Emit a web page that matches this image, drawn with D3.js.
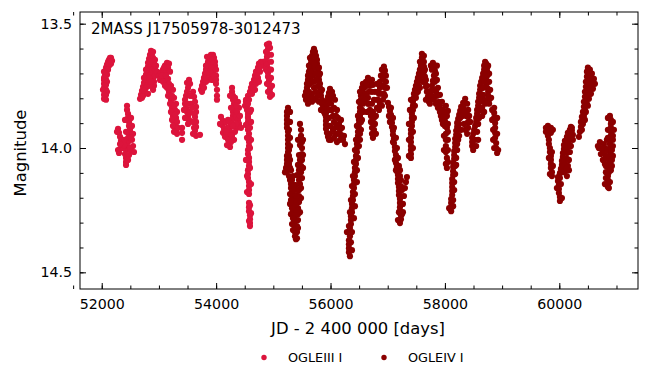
<!DOCTYPE html>
<html>
<head>
<meta charset="utf-8">
<script src="https://cdn.jsdelivr.net/npm/d3@7"></script>
<style>
  body { margin: 0; background: #fff; }
  svg { display: block; font-family: "DejaVu Sans", sans-serif; }
  .tick text { fill: #000; }
</style>
</head>
<body>
<div id="chart"></div>
<script>
`use strict`;

// light curve, [JD - 2400000, I mag]
const ogle3 = [
    // 2001
    [52075,13.806],[52057,13.790],[52057,13.774],[52040,13.758],[52040,13.742],[52040,13.726],[52057,13.709],[52057,13.693],
    [52075,13.677],[52092,13.665],[52110,13.653],[52127,13.645],[52145,13.637],[52162,13.637],[52180,13.649],[52162,13.661],
    [52127,13.669],[52092,13.685],[52092,13.705],[52075,13.726],[52075,13.746],[52075,13.766],[52075,13.786],[52057,13.802],
    [52127,13.661],[52162,13.653],[52110,13.685],[52040,13.693],[52075,13.701],[52040,13.718],[52092,13.734],[52057,13.750],
    [52022,13.766],[52092,13.774],[52040,13.786],[52040,13.802],
    // 2002
    [52442,13.830],[52442,13.847],[52460,13.863],[52460,13.879],[52477,13.895],[52477,13.911],[52494,13.927],[52477,13.943],
    [52460,13.959],[52460,13.976],[52442,13.992],[52425,14.008],[52407,14.024],[52425,14.040],[52425,14.056],[52425,14.068],
    [52285,13.923],[52302,13.939],[52320,13.955],[52337,13.971],[52355,13.988],[52320,14.004],[52302,14.020],[52285,14.008],
    [52529,13.911],[52547,13.943],[52529,13.967],[52547,13.992],[52512,14.012],[52564,14.016],
    [52390,13.967],[52372,14.000],[52494,14.000],
    [52407,13.887],[52512,13.879],[52425,13.935],[52512,13.959],[52390,13.988],[52477,14.028],[52460,14.048],[52320,13.984],
    [52267,13.935],
    // 2003
    [52670,13.802],[52687,13.786],[52704,13.770],[52722,13.754],[52739,13.738],[52757,13.722],[52774,13.705],[52792,13.689],
    [52809,13.673],[52809,13.657],[52827,13.641],[52844,13.625],[52862,13.609],[52879,13.621],[52897,13.637],[52879,13.653],
    [52862,13.669],[52844,13.685],[52862,13.701],[52897,13.718],[52914,13.734],[52931,13.709],[52914,13.750],[52897,13.766],
    [52809,13.726],[52792,13.750],[52757,13.774],[52704,13.798],
    [52722,13.790],[52774,13.758],[52844,13.750],[52827,13.718],[52879,13.685],[52931,13.685],[52949,13.669],[52914,13.661],
    [52931,13.645],[52844,13.653],[52774,13.685],[52739,13.718],[52862,13.734],[52966,13.693],[52897,13.613],[52739,13.770],
    [52809,13.782],
    // 2004
    [53001,13.709],[53019,13.726],[53036,13.697],[53071,13.685],[53106,13.669],[53141,13.657],[53176,13.661],[53159,13.677],
    [53124,13.693],[53089,13.713],[53124,13.734],[53159,13.722],[53194,13.693],[53141,13.758],[53176,13.774],[53194,13.790],
    [53211,13.806],[53229,13.822],[53229,13.838],[53246,13.855],[53246,13.871],[53264,13.887],[53281,13.903],[53281,13.919],
    [53299,13.931],[53211,13.750],[53246,13.766],[53264,13.798],[53299,13.822],[53316,13.855],[53299,13.879],[53281,13.847],
    [53054,13.709],[53089,13.677],[53124,13.709],[53176,13.742],[53159,13.790],[53194,13.822],[53176,13.758],[53229,13.790],
    [53264,13.830],[53211,13.855],[53281,13.867],[53229,13.887],[53316,13.895],[53246,13.911],[53334,13.919],[53316,13.943],
    [53264,13.935],[53071,13.734],[53106,13.750],
    // 2005
    [53404,13.919],[53404,13.939],[53404,13.967],[53491,13.738],[53526,13.726],[53544,13.742],[53509,13.758],[53491,13.774],
    [53474,13.790],[53456,13.806],[53456,13.822],[53474,13.838],[53491,13.855],[53509,13.871],[53526,13.887],[53544,13.855],
    [53561,13.822],[53579,13.790],[53596,13.774],[53614,13.794],[53631,13.814],[53649,13.834],[53649,13.855],[53631,13.875],
    [53649,13.895],[53649,13.915],[53631,13.931],[53649,13.951],[53596,13.943],[53718,13.947],
    [53438,13.847],[53509,13.822],[53544,13.790],[53579,13.838],[53614,13.863],[53596,13.895],[53614,13.919],[53509,13.903],
    [53456,13.879],
    // 2006
    [53736,13.766],[53753,13.750],[53771,13.734],[53788,13.718],[53806,13.701],[53823,13.685],[53841,13.669],[53858,13.653],
    [53876,13.637],[53910,13.625],[53945,13.625],[53963,13.637],[53980,13.653],[53980,13.669],[53963,13.685],[53945,13.701],
    [53910,13.718],[53876,13.701],[53893,13.677],[53910,13.653],[53858,13.726],[53998,13.709],[53998,13.742],[54015,13.766],
    [54015,13.790],[54015,13.806],[53823,13.734],
    [53841,13.633],[53893,13.637],[53928,13.645],[53858,13.661],[53945,13.661],[53823,13.669],[53893,13.693],[53928,13.677],
    [53841,13.701],[53806,13.718],[53771,13.750],[53753,13.774],[53788,13.758],[53928,13.726],[53963,13.709],[53998,13.685],
    [53998,13.726],
    // 2007
    [54278,13.758],[54278,13.774],[54295,13.790],[54295,13.806],[54313,13.822],[54313,13.838],[54295,13.855],[54295,13.871],
    [54278,13.887],[54260,13.903],[54243,13.919],[54243,13.935],[54225,13.951],[54225,13.967],[54225,13.984],[54243,13.996],
    [54085,13.875],[54120,13.891],[54103,13.907],[54138,13.923],[54120,13.939],[54155,13.955],[54173,13.895],[54190,13.919],
    [54348,13.871],[54382,13.887],[54400,13.903],[54365,13.919],[54330,13.935],[54400,13.838],[54382,13.814],[54365,13.855],
    [54243,13.790],[54330,13.798],[54348,13.830],[54260,13.838],[54348,13.903],[54295,13.911],[54208,13.887],[54173,13.935],
    [54208,13.967],[54278,13.951],[54313,13.967],[54260,13.976],[54068,13.903],[54190,13.988],[54417,13.871],[54435,13.919],
    // 2008
    [54522,13.814],[54540,13.830],[54540,13.847],[54557,13.863],[54557,13.879],[54557,13.895],[54557,13.911],[54557,13.927],
    [54575,13.943],[54575,13.959],[54575,13.976],[54575,13.992],[54557,14.008],[54557,14.024],[54575,14.040],[54575,14.056],
    [54575,14.072],[54557,14.089],[54557,14.105],[54557,14.121],[54575,14.137],[54575,14.153],[54575,14.169],[54575,14.185],
    [54575,14.221],[54575,14.238],[54575,14.254],[54592,14.270],[54592,14.286],[54592,14.302],[54592,14.314],
    [54610,13.847],[54610,13.895],[54610,13.967],[54522,13.907],[54522,14.048],
    [54592,13.855],[54592,13.919],[54592,14.000],[54592,14.080],[54610,14.145],[54540,14.177],[54592,14.230],[54610,14.262],
    [54575,14.294],[54557,13.875],[54540,13.959],[54540,14.113],
    [54505,13.830],[54522,13.806],[54557,13.790],[54592,13.774],[54610,13.758],[54627,13.742],[54662,13.726],[54680,13.709],
    [54697,13.693],[54732,13.677],[54749,13.661],[54784,13.653],[54802,13.669],[54767,13.693],[54732,13.718],[54697,13.742],
    [54662,13.766],
    [54575,13.806],[54627,13.782],[54644,13.758],[54697,13.726],[54715,13.709],[54749,13.685],[54784,13.669],[54819,13.653],
    [54557,13.822],[54680,13.766],[54749,13.734],
    // 2009
    [54889,13.584],[54907,13.601],[54889,13.617],[54889,13.633],[54872,13.649],[54889,13.665],[54907,13.681],[54907,13.697],
    [54907,13.713],[54924,13.730],[54924,13.746],[54942,13.762],[54942,13.778],[54942,13.794],[54924,13.580],
    [54942,13.597],[54959,13.625],[54959,13.653],[54872,13.685],[54959,13.685],[54959,13.718],[54889,13.742],[54977,13.750],
    [54907,13.774],[54977,13.786],[54872,13.613]
];

const ogle4 = [
    // 2010
    [55257,13.838],[55239,13.855],[55239,13.871],[55239,13.887],[55239,13.903],[55239,13.919],[55257,13.935],[55257,13.951],
    [55257,13.967],[55257,13.984],[55257,14.000],[55257,14.016],[55239,14.032],[55239,14.048],[55239,14.064],[55222,14.080],
    [55222,14.097],[55274,14.113],[55292,14.129],[55309,14.145],[55309,14.161],[55327,14.177],[55327,14.193],[55327,14.209],
    [55344,14.225],[55344,14.242],[55344,14.258],[55361,14.274],[55361,14.290],[55361,14.306],[55379,14.322],[55379,14.338],
    [55379,14.355],[55396,14.367],
    [55414,14.338],[55414,14.314],[55431,14.290],[55431,14.266],[55431,14.242],[55449,14.217],[55449,14.193],[55449,14.169],
    [55466,14.145],[55466,14.121],[55484,14.097],[55484,14.072],[55501,14.048],[55501,14.024],[55501,14.000],[55501,13.976],
    [55484,13.951],[55484,13.927],[55466,13.903],
    [55292,14.185],[55292,14.225],[55309,14.266],[55327,14.306],[55396,14.230],[55396,14.189],[55396,14.149],[55414,14.109],
    [55431,14.068],[55449,14.028],[55379,14.270],[55361,14.149],[55344,14.113],[55292,14.080],[55292,14.048],[55274,14.008],
    [55274,13.927],[55309,14.089],
    [55292,13.855],[55292,13.895],[55292,13.959],[55292,13.992],[55274,14.032],[55274,14.064],[55204,14.097],[55361,14.169],
    [55379,14.209],[55414,14.250],[55396,14.290],[55414,14.363],[55344,14.330],[55431,14.322],[55466,14.258],[55484,14.201],
    [55484,14.161],[55501,14.121],[55519,14.080],[55519,14.028],[55519,13.967],[55449,14.089],[55449,14.129],[55431,14.169],
    [55414,14.193],[55466,14.048],[55466,13.988],[55431,13.967],[55327,14.129],[55309,14.209],[55327,14.242],[55344,14.282],
    // 2011
    [55571,13.806],[55571,13.790],[55571,13.774],[55588,13.758],[55588,13.742],[55606,13.726],[55606,13.709],[55623,13.693],
    [55641,13.677],[55658,13.661],[55658,13.645],[55676,13.629],[55693,13.613],[55711,13.601],[55728,13.613],[55746,13.629],
    [55763,13.645],[55763,13.661],[55781,13.677],[55781,13.693],[55798,13.709],[55798,13.726],[55816,13.742],[55816,13.758],
    [55833,13.774],[55833,13.790],[55851,13.806],[55851,13.822],[55868,13.838],[55886,13.855],[55676,13.685],[55693,13.709],
    [55711,13.734],[55711,13.758],[55676,13.782],[55641,13.798],[55746,13.774],[55746,13.806],[55641,13.742],[55728,13.677],
    [55641,13.637],[55711,13.625],[55746,13.645],[55623,13.669],[55693,13.653],[55728,13.661],[55798,13.677],[55658,13.693],
    [55746,13.701],[55816,13.701],[55606,13.750],[55641,13.718],[55676,13.734],[55746,13.726],[55781,13.750],[55851,13.766],
    [55623,13.774],[55553,13.790],[55606,13.798],[55693,13.798],[55781,13.790],[55798,13.814],[55886,13.822],[55606,13.822],
    [55676,13.814],[55833,13.847],[55903,13.863],
    // 2012
    [55991,13.762],[55973,13.778],[55956,13.794],[55938,13.810],[55938,13.826],[55921,13.842],[55921,13.859],[55921,13.875],
    [55921,13.891],[55921,13.907],[55921,13.923],[55938,13.939],[55956,13.955],[56008,13.967],[56061,13.959],[56095,13.943],
    [56078,13.919],[56061,13.895],[56043,13.871],[56026,13.847],[56008,13.822],[56008,13.798],[56026,13.774],[56078,13.806],
    [56113,13.847],[56130,13.879],[56148,13.903],[56165,13.927],[56183,13.947],[56218,13.967],[56253,13.984],[56113,13.976],
    [56043,13.927],[56183,13.887],
    [55973,13.806],[55991,13.847],[55973,13.879],[55991,13.911],[55991,13.943],[56061,13.838],[56095,13.871],[56113,13.911],
    [56130,13.943],[56165,13.967],[56235,13.951],[56200,13.919],[55973,13.967],[56043,13.790],
    // 2013
    [56340,14.435],[56322,14.419],[56322,14.403],[56322,14.387],[56322,14.371],[56287,14.338],[56340,14.355],[56340,14.322],
    [56357,14.306],[56357,14.290],[56357,14.274],[56375,14.258],[56375,14.242],[56375,14.225],[56392,14.209],[56392,14.193],
    [56392,14.177],[56410,14.161],[56410,14.145],[56410,14.129],[56427,14.113],[56427,14.097],[56427,14.080],[56445,14.064],
    [56445,14.048],[56445,14.032],[56462,14.016],[56462,14.000],[56462,13.984],[56480,13.967],[56480,13.951],[56480,13.935],
    [56497,13.919],[56497,13.903],[56497,13.887],[56515,13.871],[56515,13.855],[56515,13.838],[56532,13.822],[56532,13.806],
    [56532,13.790],[56550,13.774],[56550,13.758],[56567,13.742],[56585,13.790],[56567,13.822],[56567,13.855],[56550,13.887],
    [56532,13.927],[56515,13.967],
    [56375,14.411],[56357,14.379],[56375,14.338],[56322,14.314],[56410,14.282],[56340,14.258],[56427,14.234],[56357,14.209],
    [56427,14.185],[56375,14.153],[56462,14.137],[56392,14.113],[56462,14.089],[56410,14.056],[56480,14.040],[56427,14.008],
    [56497,13.992],[56445,13.967],[56515,13.943],[56462,13.911],[56532,13.895],[56480,13.871],[56550,13.847],[56497,13.814],
    [56567,13.798],[56515,13.774],[56585,13.758],
    [56585,13.758],[56620,13.734],[56655,13.718],[56690,13.726],[56690,13.750],[56672,13.774],[56655,13.798],[56672,13.822],
    [56690,13.847],[56707,13.871],[56707,13.895],[56725,13.919],[56725,13.943],[56742,13.959],[56777,13.903],[56794,13.871],
    [56812,13.838],[56829,13.806],[56847,13.782],[56864,13.758],[56864,13.734],[56882,13.709],[56899,13.685],[56934,13.673],
    [56952,13.689],[56969,13.709],[56969,13.734],[56952,13.758],[56934,13.782],[56917,13.806],[56899,13.830],[56760,13.806],
    [56777,13.774],[56620,13.782],[56602,13.806],[56742,13.746],
    [56637,13.750],[56725,13.726],[56725,13.774],[56725,13.822],[56742,13.855],[56760,13.879],[56760,13.927],[56794,13.943],
    [56812,13.806],[56829,13.774],[56812,13.742],[56917,13.718],[56917,13.750],[56899,13.782],[56864,13.822],[56847,13.847],
    [56934,13.701],[56987,13.758],[56952,13.790],[56655,13.822],[56637,13.855],
    // 2015
    [57004,13.818],[57022,13.834],[57039,13.851],[57057,13.867],[57057,13.883],[57074,13.899],[57074,13.915],[57092,13.931],
    [57092,13.947],[57109,13.963],[57109,13.980],[57126,13.996],[57126,14.012],[57144,14.028],[57144,14.044],[57144,14.060],
    [57161,14.076],[57161,14.093],[57179,14.109],[57179,14.125],[57179,14.141],[57196,14.157],[57196,14.173],[57196,14.189],
    [57214,14.205],[57214,14.221],[57214,14.238],[57214,14.254],[57231,14.270],[57231,14.286],[57214,14.302],[57266,14.258],
    [57266,14.225],[57284,14.193],[57301,14.161],[57319,14.137],[57336,14.117],[57249,14.169],[57231,14.129],[57214,14.089],
    [57039,13.895],[57022,13.871],
    [57057,13.838],[57092,13.879],[57109,13.919],[57144,13.959],[57161,14.000],[57179,14.040],[57196,14.072],[57214,14.113],
    [57231,14.153],[57231,14.193],[57249,14.225],[57249,14.266],[57179,14.290],[57196,14.258],[57144,14.089],[57126,14.048],
    [57092,13.976],
    // 2016
    [57406,14.040],[57406,14.024],[57406,14.008],[57406,13.992],[57406,13.976],[57406,13.959],[57406,13.943],[57406,13.927],
    [57423,13.911],[57423,13.895],[57423,13.879],[57423,13.863],[57441,13.847],[57441,13.830],[57441,13.814],[57458,13.798],
    [57458,13.782],[57476,13.766],[57493,13.750],[57511,13.734],[57528,13.718],[57546,13.701],[57563,13.685],[57581,13.669],
    [57581,13.653],[57598,13.637],[57598,13.621],[57616,13.633],[57633,13.653],[57633,13.673],[57633,13.693],[57651,13.713],
    [57651,13.734],[57668,13.754],[57685,13.774],[57703,13.794],[57720,13.814],[57546,13.750],[57528,13.774],[57493,13.798],
    [57563,13.726],[57598,13.709],
    [57371,14.032],[57441,14.000],[57371,13.967],[57441,13.935],[57371,13.903],[57458,13.879],[57388,13.847],[57476,13.830],
    [57406,13.806],[57493,13.782],[57511,13.758],[57563,13.758],[57546,13.718],[57616,13.734],[57581,13.701],[57651,13.685],
    [57598,13.669],[57633,13.629],[57563,13.653],[57668,13.726],[57685,13.750],[57703,13.774],[57720,13.798],[57668,13.806],
    [57738,13.822],
    // 2017
    [57755,13.669],[57790,13.657],[57825,13.669],[57825,13.689],[57808,13.709],[57790,13.730],[57773,13.750],[57755,13.770],
    [57773,13.790],[57808,13.806],[57843,13.822],[57878,13.838],[57913,13.855],[57930,13.871],[57948,13.887],[57965,13.903],
    [58000,13.891],[58035,13.871],[58052,13.851],[58017,13.830],[58035,13.919],[58017,13.943],[58017,13.967],[58017,13.992],
    [58017,14.016],[58035,14.040],[58017,14.064],[58035,14.080],[57860,13.726],[57878,13.758],[57913,13.786],[57948,13.814],
    [57843,13.774],
    [57773,13.685],[57843,13.701],[57825,13.734],[57808,13.766],[57860,13.790],[57895,13.814],[57913,13.830],[57965,13.847],
    [57983,13.871],[58017,13.855],[58000,13.911],[58052,13.903],[58052,13.935],[58052,13.967],[57983,13.951],[58052,14.008],
    [57983,14.008],[58052,14.056],[57860,13.669],
    // 2018
    [58354,13.802],[58319,13.818],[58284,13.834],[58267,13.851],[58249,13.867],[58232,13.883],[58214,13.899],[58214,13.915],
    [58197,13.931],[58197,13.947],[58179,13.963],[58179,13.980],[58179,13.996],[58162,14.012],[58162,14.028],[58162,14.044],
    [58144,14.060],[58144,14.076],[58144,14.093],[58144,14.109],[58127,14.125],[58127,14.141],[58127,14.157],[58127,14.173],
    [58127,14.189],[58109,14.205],[58109,14.221],[58109,14.238],[58109,14.254],[58389,13.822],[58406,13.847],[58424,13.871],
    [58406,13.895],[58406,13.919],[58389,13.943],[58337,13.903],[58302,13.871],[58249,13.927],[58232,13.967],[58214,14.008],
    [58197,14.068],
    [58319,13.838],[58267,13.879],[58249,13.903],[58249,13.951],[58232,13.919],[58214,13.984],[58197,14.008],[58197,14.040],
    [58179,14.072],[58179,14.105],[58162,14.137],[58162,14.169],[58144,14.209],[58144,14.234],[58074,14.242],[58372,13.871],
    [58441,13.895],[58354,13.927],[58284,13.927],[58337,13.855],
    // 2019
    [58494,14.008],[58476,13.992],[58476,13.976],[58476,13.959],[58494,13.943],[58511,13.927],[58528,13.911],[58546,13.895],
    [58546,13.879],[58563,13.863],[58563,13.847],[58581,13.830],[58581,13.814],[58598,13.798],[58598,13.782],[58616,13.766],
    [58616,13.750],[58633,13.734],[58651,13.718],[58668,13.701],[58686,13.685],[58686,13.669],[58703,13.653],[58721,13.661],
    [58738,13.677],[58738,13.693],[58738,13.709],[58721,13.726],[58721,13.742],[58738,13.758],[58756,13.774],[58756,13.790],
    [58773,13.806],[58773,13.822],[58651,13.838],[58651,13.871],[58861,13.838],[58861,13.859],[58861,13.879],[58878,13.899],
    [58878,13.919],[58878,13.939],[58878,13.959],[58896,13.980],[58896,14.000],[58913,14.020],[58546,13.992],[58581,13.967],
    [58668,13.786],[58686,13.806],
    [58528,13.967],[58511,13.992],[58563,13.935],[58581,13.903],[58598,13.879],[58616,13.847],[58633,13.814],[58651,13.790],
    [58668,13.758],[58686,13.734],[58703,13.709],[58721,13.685],[58756,13.669],[58773,13.701],[58773,13.734],[58791,13.766],
    [58808,13.798],[58703,13.822],[58686,13.855],[58826,13.847],[58826,13.887],[58843,13.927],[58843,13.967],[58861,14.000],
    [58931,14.008],[58913,13.943],[58913,13.879],
    // 2022
    [59766,13.919],[59801,13.911],[59853,13.919],[59853,13.939],[59801,13.951],[59766,13.935],[59818,13.967],[59836,14.000],
    [59836,14.016],[59853,14.032],[59853,14.048],[59853,14.064],[59853,14.080],[59871,14.097],[59871,14.113],
    [59801,13.927],[59888,13.927],[59818,13.984],[59871,14.016],[59818,14.040],[59888,14.072],[59836,14.105],
    [60011,14.213],[60011,14.197],[59993,14.181],[59993,14.165],[59993,14.149],[59976,14.133],[59976,14.117],[60011,14.101],
    [60028,14.084],[60046,14.068],[60046,14.052],[60063,14.036],[60063,14.020],[60081,14.004],[60081,13.988],[60098,13.971],
    [60133,13.955],[60150,13.939],[60185,13.927],[60203,13.915],[60220,13.931],[60203,13.951],[60168,13.971],[60150,13.996],
    [60133,14.020],[60133,14.044],[60116,14.068],[60098,14.093],[60133,14.113],[60168,14.089],[60185,13.988],[60238,13.947],
    [60046,14.201],[59958,14.161],[60028,14.145],[60011,14.121],[60063,14.097],[60081,14.072],[60098,14.048],[60098,14.016],
    [60116,13.992],[60133,13.976],[60168,13.951],[60220,13.919],[60238,13.967],[60203,13.992],[60185,14.016],[60168,14.048],
    [60150,14.072],[60133,14.080],
    // 2023
    [60343,13.955],[60360,13.935],[60378,13.915],[60378,13.895],[60395,13.875],[60413,13.855],[60430,13.834],[60430,13.814],
    [60448,13.794],[60448,13.774],[60465,13.754],[60465,13.734],[60483,13.713],[60483,13.693],[60500,13.677],[60535,13.685],
    [60570,13.701],[60605,13.722],[60623,13.742],[60588,13.762],[60553,13.782],[60518,13.802],[60483,13.822],[60448,13.847],
    [60413,13.887],[60535,13.726],[60518,13.758],
    [60395,13.927],[60413,13.903],[60430,13.871],[60465,13.855],[60465,13.814],[60483,13.790],[60500,13.766],[60500,13.742],
    [60518,13.718],[60518,13.693],[60553,13.718],[60588,13.742],[60553,13.758],[60500,13.830],[60448,13.887],[60535,13.782],
    // 2024
    [60885,13.871],[60902,13.887],[60902,13.903],[60902,13.919],[60902,13.935],[60902,13.951],[60902,13.967],[60885,13.984],
    [60885,14.000],[60885,14.016],[60885,14.032],[60867,14.048],[60867,14.064],[60867,14.080],[60867,14.097],[60850,14.113],
    [60850,14.129],[60850,14.145],[60850,14.157],[60815,14.097],[60797,14.064],[60815,14.032],[60797,14.000],[60780,13.984],
    [60710,13.976],[60692,14.000],[60727,14.024],[60762,14.048],[60937,13.992],[60937,14.032],[60937,13.951],[60920,14.072],
    [60832,13.967],
    [60850,13.879],[60937,13.895],[60850,13.927],[60955,13.927],[60850,13.959],[60937,13.967],[60832,14.008],[60920,14.008],
    [60832,14.040],[60920,14.048],[60815,14.072],[60902,14.089],[60815,14.121],[60885,14.137],[60797,14.145],[60762,14.016],
    [60745,14.000],[60675,13.992],[60867,14.161]
];

const xTicks = [52000, 54000, 56000, 58000, 60000];
const xMinorTicks = d3.range(51500, 61500, 500);
const yTicks = [13.5, 14.0, 14.5];
const yMinorTicks = d3.range(13.5, 14.55, 0.1);
const title = "2MASS J17505978-3012473";
const seriesNames = ["OGLEIII I", "OGLEIV I"];
const seriesColors = ["#dc143c", "#8b0000"];

let w = 649, h = 381;
let padLeft = 80, padRight = 638, padTop = 12, padBottom = 289;
let r = 3.1;

let svg = d3.select('#chart').append('svg')
    .attr('width', w).attr('height', h);

let x = d3.scaleLinear().domain([51620, 61376]).range([padLeft, padRight]);
let y = d3.scaleLinear().domain([13.453, 14.567]).range([padTop, padBottom]);

svg.append('clipPath').attr('id', 'plot-clip')
    .append('rect').attr('x', padLeft).attr('y', padTop)
    .attr('width', padRight - padLeft).attr('height', padBottom - padTop);

//points
let plot = svg.append('g').attr('clip-path', 'url(#plot-clip)');
[ogle3, ogle4].forEach((data, i) => {
    plot.append('g').selectAll('circle').data(data).join('circle')
        .attr('cx', (d) => x(d[0])).attr('cy', (d) => y(d[1]))
        .attr('r', r).attr('fill', seriesColors[i]);
});

//axes: ticks point inward on all four sides
function styleAxis(g){
    g.select('.domain').remove();
    g.selectAll('.tick line').attr('stroke', '#000').attr('stroke-width', 1);
    g.selectAll('.tick text').style('font-size', '14.2px').style('font-family', '"DejaVu Sans"');
}
let fmtY = d3.format('.1f');

svg.append('g').attr('transform', `translate(0,${padBottom})`)
    .call(d3.axisBottom(x).tickValues(xTicks).tickSize(-6).tickPadding(9.5).tickFormat(d3.format('d')))
    .call(styleAxis);
svg.append('g').attr('transform', `translate(0,${padBottom})`)
    .call(d3.axisBottom(x).tickValues(xMinorTicks).tickSize(-3.5).tickFormat(''))
    .call(styleAxis);
svg.append('g').attr('transform', `translate(0,${padTop})`)
    .call(d3.axisTop(x).tickValues(xTicks).tickSize(-6).tickFormat(''))
    .call(styleAxis);
svg.append('g').attr('transform', `translate(0,${padTop})`)
    .call(d3.axisTop(x).tickValues(xMinorTicks).tickSize(-3.5).tickFormat(''))
    .call(styleAxis);

svg.append('g').attr('transform', `translate(${padLeft},0)`)
    .call(d3.axisLeft(y).tickValues(yTicks).tickSize(-6).tickPadding(8).tickFormat(fmtY))
    .call(styleAxis);
svg.append('g').attr('transform', `translate(${padLeft},0)`)
    .call(d3.axisLeft(y).tickValues(yMinorTicks).tickSize(-3.5).tickFormat(''))
    .call(styleAxis);
svg.append('g').attr('transform', `translate(${padRight},0)`)
    .call(d3.axisRight(y).tickValues(yTicks).tickSize(-6).tickFormat(''))
    .call(styleAxis);
svg.append('g').attr('transform', `translate(${padRight},0)`)
    .call(d3.axisRight(y).tickValues(yMinorTicks).tickSize(-3.5).tickFormat(''))
    .call(styleAxis);

//frame
svg.append('rect').attr('x', padLeft).attr('y', padTop)
    .attr('width', padRight - padLeft).attr('height', padBottom - padTop)
    .attr('fill', 'none').attr('stroke', '#000').attr('stroke-width', 1);

//texts
svg.append('text').text(title)
    .attr('x', 91).attr('y', 34).style('font-size', '15px');

svg.append('text').text('Magnitude')
    .attr('text-anchor', 'middle')
    .attr('transform', `translate(26,153) rotate(-90)`)
    .style('font-size', '16.4px');

svg.append('text').text('JD - 2 400 000 [days]')
    .attr('text-anchor', 'middle')
    .attr('x', 358).attr('y', 334)
    .style('font-size', '16.4px');

//legend
let legend = svg.append('g');
seriesNames.forEach((name, i) => {
    let lx = 264 + i * 120;
    legend.append('circle').attr('cx', lx).attr('cy', 357.5).attr('r', 2.7).attr('fill', seriesColors[i]);
    legend.append('text').text(name).attr('x', lx + 24).attr('y', 362)
        .style('font-size', '12.8px');
});
</script>
</body>
</html>
